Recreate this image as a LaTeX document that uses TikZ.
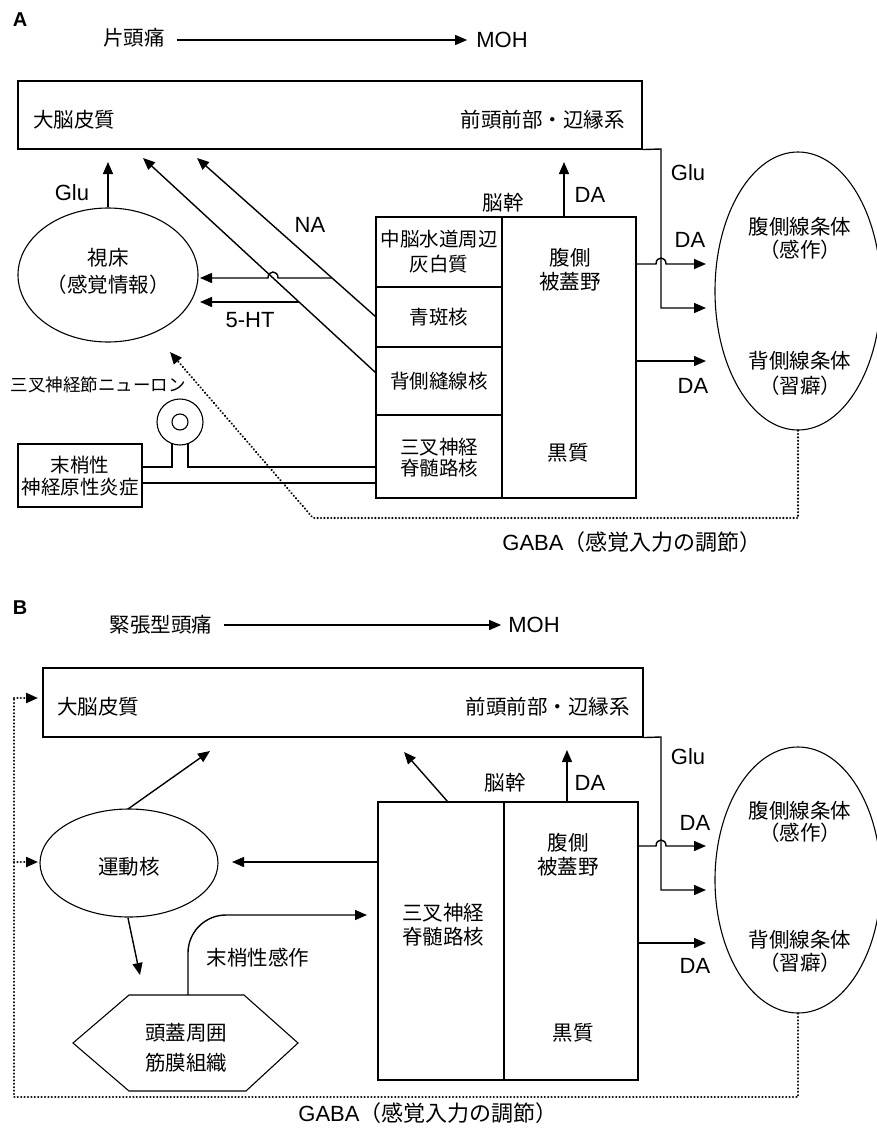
\documentclass[tikz,border=0pt]{standalone}
\usepackage{fontspec}
\setmainfont{Liberation Sans}
\newfontfamily\jp{Noto Sans CJK JP}
\usetikzlibrary{arrows.meta,shapes.geometric}
\newcommand\fsL{\fontsize{22}{25}\selectfont}
\newcommand\fsJ{\fontsize{20.5}{24}\selectfont}
\newcommand\J[1]{{\jp #1}}
\tikzset{
  box/.style={draw, line width=1.1pt, inner sep=0pt},
  ll/.style={inner sep=0pt, font=\fsL},
  jl/.style={inner sep=0pt, font=\jp\fsJ},
  jl2/.style={inner sep=0pt, align=center, font={\jp\fontsize{20.5}{#1}\selectfont}},
  js2/.style={inner sep=0pt, align=center, font={\jp\fontsize{19.5}{#1}\selectfont}},
  ln/.style={line width=1.2pt},
  arr/.style={line width=1.4pt, -{Triangle[length=12pt,width=10pt]}},
  dotl/.style={line width=2.3pt, line cap=round, dash pattern=on 0.1pt off 3.3pt},
  darr/.style={dotl, -{Triangle[length=12pt,width=10pt]}},
  elli/.style={draw, ellipse, line width=1.1pt, inner sep=0pt},
}
\begin{document}
\begin{tikzpicture}[x=1pt,y=-1pt]
\useasboundingbox[fill=white] (0,0) rectangle (877,1129);

% ================= Panel A =================
\node[inner sep=0pt, font=\bfseries\fontsize{20}{20}\selectfont] (labA) at (20,20) {A};
\node[jl] (migA) at (134,38) {片頭痛};
\node[ll] (mohA) at (502,40) {MOH};
\draw[arr] ([xshift=12pt]migA.east |- 0,40) coordinate (mA0) -- ([xshift=-9pt]mohA.west) coordinate (mA1);

\node[box, minimum width=624pt, minimum height=68pt] (ctxA) at (330,115) {};
\node[jl, anchor=west] (ctxAl) at (33,120) {大脳皮質};
\node[jl, anchor=east] (ctxAr) at (625,120) {前頭前部・辺縁系};

% brainstem A
\node[box, minimum width=260pt, minimum height=281pt] (bsA) at (506,357.5) {};
\draw[ln] (502,217) -- (502,498);
\draw[ln] (376,287) -- (502,287);
\draw[ln] (376,347) -- (502,347);
\draw[ln] (376,415) -- (502,415);
\node[js2=25] (pagA) at (439,252) {中脳水道周辺\\灰白質};
\node[js2=24] (lcA) at (439,317) {青斑核};
\node[js2=24] (drnA) at (439,381) {背側縫線核};
\node[js2=21] (spA) at (439,458) {三叉神経\\脊髄路核};
\node[jl2=24] (vtaA) at (570,270) {腹側\\被蓋野};
\node[jl] (snA) at (568,453) {黒質};
\node[jl] (nkA) at (503,203) {脳幹};
\node[ll] (daUA) at (590,195) {DA};
\coordinate (daA0) at (564,217);
\coordinate (daA1) at (564,162);
\draw[arr] (daA0) -- (daA1);

% striatum A
\node[elli, minimum width=166pt, minimum height=278pt] (stA) at (798,291) {};
\node[jl2=23] (vsA) at (800,238) {腹側線条体\\（感作）};
\node[jl2=25] (dsA) at (800,373) {背側線条体\\（習癖）};

% Glu from cortex to striatum
\coordinate (gA0) at (ctxA.south east);
\coordinate (gA1) at (661,149);
\coordinate (gA2) at (661,308);
\coordinate (gA3) at (706,308);
\draw[arr] (gA0) -- (gA1) -- (gA2) -- (gA3);
\node[ll] (gluRA) at (688,173) {Glu};

% DA to striatum
\draw[arr] (bsA.east |- 0,264) -- (656,264) .. controls (656,256) and (666,256) .. (666,264) -- (706,264);
\draw[arr] (bsA.east |- 0,361) -- (706,361);
\node[ll] (da1A) at (690,240) {DA};
\node[ll] (da2A) at (693,386) {DA};

% thalamus
\node[elli, minimum width=180pt, minimum height=134pt] (thA) at (108,275) {};
\node[jl2=27] (thAt) at (108,271) {視床\\（感覚情報）};
\draw[arr] (thA.north) -- (108,162);
\node[ll] (gluLA) at (72,193) {Glu};

% NA and 5-HT
\coordinate (naS) at (376,317);
\coordinate (naT) at (197,158);
\coordinate (htS) at (376,373);
\coordinate (htT) at (143,158);
\draw[arr] (naS) -- (naT);
\draw[arr] (htS) -- (htT);
\node[ll] (naL) at (310,225) {NA};
\draw[arr] (332,278) -- (278,278) .. controls (278,270) and (268,270) .. (268,278) -- (200,278);
\draw[arr] (299,302) -- (200,302);
\node[ll] (htL) at (250,320) {5-HT};

% trigeminal ganglion neuron
\node[jl, font=\jp\fontsize{17.5}{20}\selectfont] (tgL) at (98,385) {三叉神経節ニューロン};
\node[circle, draw, line width=1.1pt, minimum size=46pt, inner sep=0pt] (neu) at (180,422) {};
\node[circle, draw, line width=1.1pt, minimum size=16pt, inner sep=0pt] (neuI) at (180,422) {};
\node[box, minimum width=124pt, minimum height=63pt] (perA) at (80,475.5) {};
\node[js2=22] (perAt) at (80,476) {末梢性\\神経原性炎症};
\draw[ln] (172,443.6) -- (172,467) -- (perA.east |- 0,467);
\draw[ln] (188,443.6) -- (188,467) -- (bsA.west |- 0,467);
\draw[ln] (perA.east |- 0,483) -- (bsA.west |- 0,483);

% GABA A
\draw[darr] (stA.south) -- (798,518) -- (313,518) -- (170,352);
\node[ll] (gabaA) at (632,542) {GABA\J{（感覚入力の調節）}};

% ================= Panel B =================
\node[inner sep=0pt, font=\bfseries\fontsize{20}{20}\selectfont] (labB) at (20,608) {B};
\node[jl] (ttB) at (161,625) {緊張型頭痛};
\node[ll] (mohB) at (534,625) {MOH};
\draw[arr] ([xshift=12pt]ttB.east |- 0,625) -- ([xshift=-7pt]mohB.west);

\node[box, minimum width=600pt, minimum height=69pt] (ctxB) at (343,702.5) {};
\node[jl, anchor=west] (ctxBl) at (57,707) {大脳皮質};
\node[jl, anchor=east] (ctxBr) at (630,707) {前頭前部・辺縁系};

% brainstem B
\node[box, minimum width=260pt, minimum height=278pt] (bsB) at (508,941) {};
\draw[ln] (504,802) -- (504,1080);
\node[jl2=24] (spB) at (443,925) {三叉神経\\脊髄路核};
\node[jl2=24] (vtaB) at (568,855) {腹側\\被蓋野};
\node[jl] (snB) at (573,1033) {黒質};
\node[jl] (nkB) at (505,783) {脳幹};
\node[ll] (daUB) at (590,783) {DA};
\draw[arr] (567,802) -- (567,750);
\draw[arr] (448,802) -- (404,752);

% striatum B
\node[elli, minimum width=166pt, minimum height=266pt] (stB) at (798,880) {};
\node[jl2=22] (vsB) at (800,822) {腹側線条体\\（感作）};
\node[jl2=23] (dsB) at (800,951) {背側線条体\\（習癖）};
\draw[arr] (ctxB.south east) -- (661,737) -- (661,890) -- (706,890);
\node[ll] (gluRB) at (688,757) {Glu};
\draw[arr] (bsB.east |- 0,846) -- (656,846) .. controls (656,838) and (666,838) .. (666,846) -- (706,846);
\draw[arr] (bsB.east |- 0,943) -- (706,943);
\node[ll] (da1B) at (695,823) {DA};
\node[ll] (da2B) at (695,966) {DA};

% motor nucleus
\node[elli, minimum width=178pt, minimum height=108pt] (mnB) at (129,863) {};
\node[jl] (mnBt) at (129,867) {運動核};
\draw[arr] (128,809) -- (210,751);
\draw[arr] (bsB.west |- 0,862) -- (232,862);
\draw[arr] (128,918) -- (140,975);

% pericranial tissue
\node[jl2=30] (hexB) at (186,1048) {頭蓋周囲\\筋膜組織};
\draw[line width=1.1pt] (73,1043) -- (129,995) -- (244,995) -- (298,1043) -- (246,1091) -- (129,1091) -- cycle;
\coordinate (hexTop) at (188,995);
\draw[arr, rounded corners=38pt] (hexTop) |- (367,915);
\node[jl] (psB) at (258,958) {末梢性感作};

% GABA B
\draw[dotl] (stB.south) -- (798,1097) -- (14,1097) -- (14,698);
\draw[darr] (14,698) -- (38,698);
\draw[darr] (14,862) -- (38,862);
\node[ll] (gabaB) at (428,1113) {GABA\J{（感覚入力の調節）}};
\end{tikzpicture}
\end{document}
